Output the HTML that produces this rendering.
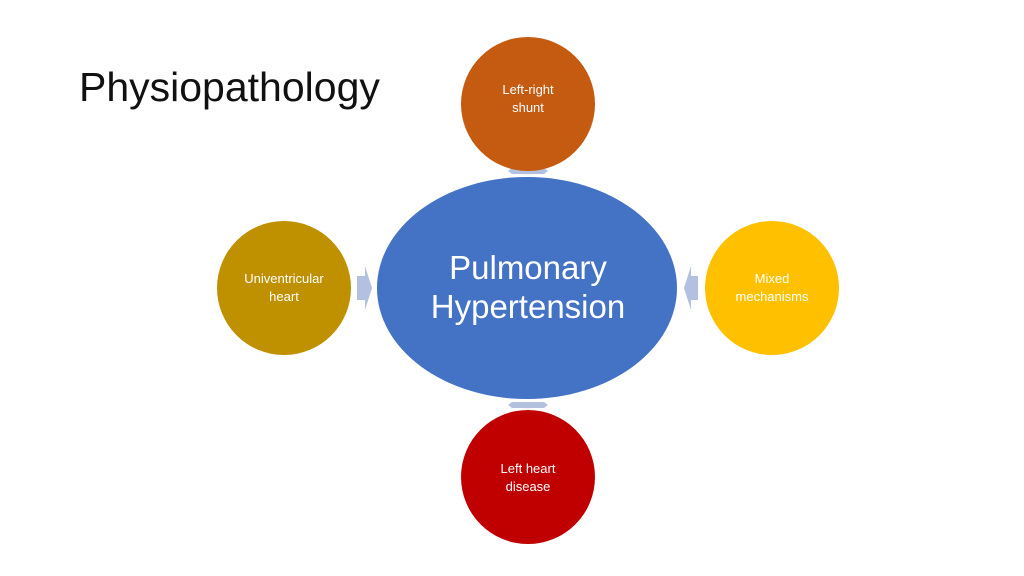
<!DOCTYPE html>
<html><head><style>
body{margin:0;width:1024px;height:576px;background:#fff;overflow:hidden;font-family:"Liberation Sans",sans-serif}
</style></head><body>
<svg width="1024" height="576" xmlns="http://www.w3.org/2000/svg" style="position:absolute;left:0;top:0">
<text x="79" y="101" font-family="Liberation Sans, sans-serif" font-size="41" fill="#111">Physiopathology</text>
<g fill="#b4c0e0">
<polygon points="357,276 365,276 365,266 372,288 365,310 365,300 357,300"/>
<polygon points="698,276 691,276 691,266 684,288 691,310 691,300 698,300"/>
<polygon points="512,168 544,168 548,171 544,174 512,174 508,171"/>
<polygon points="512,402 544,402 548,405 544,408 512,408 508,405"/>
</g>
<ellipse cx="527" cy="288" rx="150" ry="111" fill="#4472c4"/>
<circle cx="528" cy="104" r="67" fill="#c55a11"/>
<circle cx="528" cy="477" r="67" fill="#c00000"/>
<circle cx="284" cy="288" r="67" fill="#bf9000"/>
<circle cx="772" cy="288" r="67" fill="#ffc000"/>
<g fill="#fff" font-family="Liberation Sans, sans-serif" text-anchor="middle">
<text x="528" y="279" font-size="33">Pulmonary</text>
<text x="528" y="318" font-size="33">Hypertension</text>
<g font-size="13">
<text x="528" y="94">Left-right</text><text x="528" y="112">shunt</text>
<text x="528" y="473">Left heart</text><text x="528" y="491">disease</text>
<text x="284" y="283">Univentricular</text><text x="284" y="301">heart</text>
<text x="772" y="283">Mixed</text><text x="772" y="301">mechanisms</text>
</g></g>
</svg>
</body></html>
